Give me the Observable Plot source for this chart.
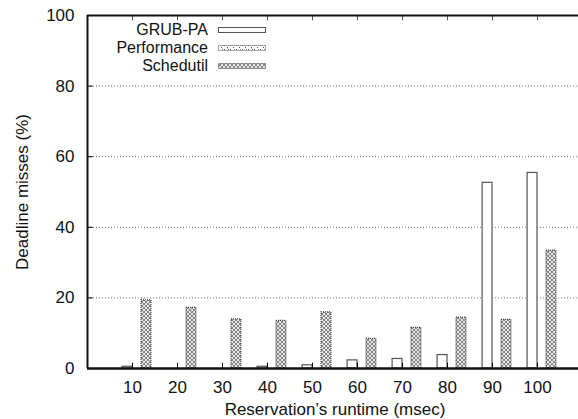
<!DOCTYPE html>
<html><head><meta charset="utf-8">
<script src="https://cdn.jsdelivr.net/npm/d3@7"></script>
<script src="https://cdn.jsdelivr.net/npm/@observablehq/plot@0.6"></script>
<style>
html,body{margin:0;padding:0;background:#fff;}
#wrap{position:relative;width:578px;height:419px;overflow:hidden;font-family:"Liberation Sans",Arial,sans-serif;}
#wrap > svg{max-width:none !important;position:absolute;left:0;top:0;}
#legend{position:absolute;left:60px;top:21px;font-size:16px;color:#111;}
.row{display:flex;align-items:center;justify-content:flex-end;height:18px;width:206px;}
.row span{margin-right:10px;line-height:16px;}
.row svg{display:block;}
</style></head><body><div id="wrap"><div id="legend"></div></div>
<script>
const runtimes = [10, 20, 30, 40, 50, 60, 70, 80, 90, 100];
const grubpa = [0.5, 0, 0, 0.5, 0.9, 2.3, 2.7, 3.8, 52.6, 55.4];
const performance = [0, 0, 0, 0, 0, 0, 0, 0, 0, 0];
const schedutil = [19.3, 17.2, 13.9, 13.5, 15.9, 8.4, 11.5, 14.4, 13.8, 33.4];
const seriesNames = ["GRUB-PA", "Performance", "Schedutil"];
const xTicks = [10, 20, 30, 40, 50, 60, 70, 80, 90, 100];
const yTicks = [0, 20, 40, 60, 80, 100];
const gridY = [20, 40, 60, 80];

const valuesBySeries = {"GRUB-PA": grubpa, "Performance": performance, "Schedutil": schedutil};
const offsets = {"GRUB-PA": [-2.2, 0], "Performance": [0, 2.0], "Schedutil": [2.0, 4.2]};
const fills = {"GRUB-PA": "white", "Performance": "url(#patPerf)", "Schedutil": "url(#patSched)"};
const strokes = {"GRUB-PA": "#555", "Performance": "#555", "Schedutil": "#444"};
const dashes = {"GRUB-PA": null, "Performance": "1,1", "Schedutil": "1,1"};

const barMarks = seriesNames.map(s => {
  const rows = runtimes.map((r, i) => ({runtime: r, value: valuesBySeries[s][i]}));
  return Plot.rectY(rows.filter(d => d.value > 0), {
    x1: d => d.runtime + offsets[s][0],
    x2: d => d.runtime + offsets[s][1],
    y1: 0, y2: "value",
    fill: fills[s], stroke: strokes[s], strokeWidth: 1.2,
    strokeDasharray: dashes[s]
  });
});

const svg = Plot.plot({
  width: 600, height: 419,
  marginLeft: 87, marginRight: 18, marginTop: 15, marginBottom: 51,
  style: {fontFamily: '"Liberation Sans", Arial, sans-serif', fontSize: "17px", background: "white", color: "#111", maxWidth: "none"},
  x: {domain: [0, 110]},
  y: {domain: [0, 100]},
  marks: [
    Plot.ruleY(gridY, {stroke: "#777", strokeDasharray: "1,2"}),
    ...barMarks,
    Plot.ruleY(yTicks.slice(1, -1), {x1: 0, x2: 1.25, stroke: "#000"}),
    Plot.ruleX(xTicks, {y1: 0, y2: 1.5, stroke: "#000"}),
    Plot.ruleX(xTicks, {y1: 98.5, y2: 100, stroke: "#555"}),
    Plot.ruleY([0], {strokeWidth: 2.5}),
    Plot.ruleY([100], {strokeWidth: 2}),
    Plot.ruleX([0], {strokeWidth: 2}),
    Plot.axisY({ticks: yTicks, tickSize: 0, tickPadding: 13, fontSize: 17, label: "Deadline misses (%)", labelAnchor: "center", labelArrow: "none", labelOffset: 72}),
    Plot.axisX({ticks: xTicks, tickSize: 0, tickPadding: 12, fontSize: 17, label: "Reservation’s runtime (msec)", labelAnchor: "center", labelArrow: "none", labelOffset: 46})
  ]
});
svg.style.maxWidth = "none";

const defs = d3.select(svg).insert("defs", ":first-child");
const ps = defs.append("pattern").attr("id", "patSched").attr("width", 4).attr("height", 4).attr("patternUnits", "userSpaceOnUse");
ps.append("rect").attr("width", 4).attr("height", 4).attr("fill", "#e6e6e6");
ps.append("path").attr("d", "M0,0L4,4M4,0L0,4").attr("stroke", "#444").attr("stroke-width", 0.6);
const pp = defs.append("pattern").attr("id", "patPerf").attr("width", 6).attr("height", 4).attr("patternUnits", "userSpaceOnUse");
pp.append("rect").attr("width", 6).attr("height", 4).attr("fill", "white");
pp.append("rect").attr("x", 0).attr("y", 0).attr("width", 1).attr("height", 1).attr("fill", "#555");
pp.append("rect").attr("x", 3).attr("y", 2).attr("width", 1).attr("height", 1).attr("fill", "#555");
pp.append("rect").attr("x", 4).attr("y", 0).attr("width", 1).attr("height", 1).attr("fill", "#888");

document.getElementById("wrap").prepend(svg);

const legend = d3.select("#legend");
seriesNames.forEach(s => {
  const row = legend.append("div").attr("class", "row");
  row.append("span").text(s);
  const sw = row.append("svg").attr("width", 48).attr("height", 6);
  sw.append("rect").attr("x", 0.5).attr("y", 0.5).attr("width", 47).attr("height", 5)
    .attr("fill", fills[s]).attr("stroke", strokes[s]).attr("stroke-width", 1)
    .attr("stroke-dasharray", dashes[s]);
});
</script></body></html>
